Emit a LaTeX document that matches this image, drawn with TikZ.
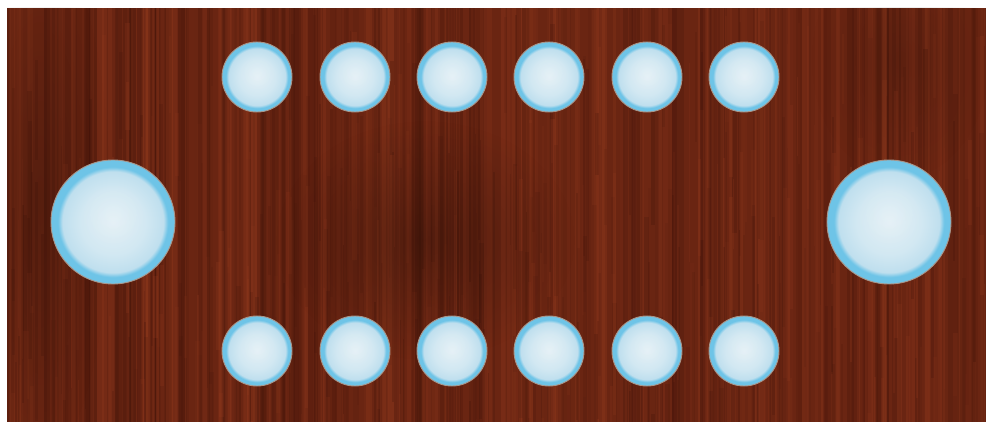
\documentclass[tikz,border=0pt]{standalone}
\usetikzlibrary{fadings}
\tikzfading[name=softdot, inner color=transparent!0, outer color=transparent!100]
\definecolor{woodbase}{HTML}{6A2512}
\definecolor{wooddark}{HTML}{42140A}
\definecolor{woodlight}{HTML}{943B1F}
\definecolor{sIn}{HTML}{E2EFF5}
\definecolor{sMid}{HTML}{D2E8F2}
\definecolor{sEdge}{HTML}{BFDFEE}
\definecolor{sRing}{HTML}{6EC4E7}
\definecolor{sOut}{HTML}{A8958A}
\pgfdeclareradialshading{seatring}{\pgfpointorigin}{color(0bp)=(sIn); color(13bp)=(sMid); color(20.4bp)=(sEdge); color(22.2bp)=(sRing); color(25bp)=(sRing); color(50bp)=(sRing)}
\newcommand\seatdisc[3]{%
  \shade[shading=seatring] (#1,#2) circle (#3);
  \fill[white, opacity=0.15, path fading=softdot] (#1,#2-0.12*#3) circle (0.55*#3);
  \draw[sOut, line width=0.9pt] (#1,#2) circle (#3);
}
\begin{document}
\begin{tikzpicture}[x=1pt,y=-1pt]
\useasboundingbox (0,0) rectangle (986,422);
\fill[white] (0,0) rectangle (986,422);
\begin{scope}
\clip (7,8) rectangle (986,422);
\fill[woodbase] (7,8) rectangle (986,422);
\pgfmathsetseed{7}
\foreach \i in {1,...,160}{
  \pgfmathsetmacro\xx{7+rnd*979}
  \pgfmathsetmacro\ww{1.5+rnd*7}
  \pgfmathsetmacro\op{0.08+rnd*0.22}
  \fill[wooddark, opacity=\op] (\xx,8) rectangle (\xx+\ww,422);
}
\foreach \i in {1,...,150}{
  \pgfmathsetmacro\xx{7+rnd*979}
  \pgfmathsetmacro\ww{1.5+rnd*6}
  \pgfmathsetmacro\op{0.08+rnd*0.22}
  \fill[woodlight, opacity=\op] (\xx,8) rectangle (\xx+\ww,422);
}
\foreach \i in {1,...,200}{
  \pgfmathsetmacro\xx{7+rnd*979}
  \pgfmathsetmacro\ww{1+rnd*4}
  \pgfmathsetmacro\yy{rnd*400}
  \pgfmathsetmacro\hh{60+rnd*200}
  \pgfmathsetmacro\op{0.06+rnd*0.2}
  \fill[wooddark, opacity=\op] (\xx,\yy) rectangle (\xx+\ww,\yy+\hh);
}
\foreach \i in {1,...,180}{
  \pgfmathsetmacro\xx{7+rnd*979}
  \pgfmathsetmacro\ww{1+rnd*4}
  \pgfmathsetmacro\yy{rnd*400}
  \pgfmathsetmacro\hh{60+rnd*200}
  \pgfmathsetmacro\op{0.06+rnd*0.18}
  \fill[woodlight, opacity=\op] (\xx,\yy) rectangle (\xx+\ww,\yy+\hh);
}
\fill[black, opacity=0.22, path fading=softdot] (425,240) ellipse (150 and 120);
\fill[black, opacity=0.18, path fading=softdot] (40,200) ellipse (70 and 260);
\fill[black, opacity=0.12, path fading=softdot] (900,60) ellipse (90 and 120);
\end{scope}
\foreach \x in {257,355,452,549,647,744}{
  \seatdisc{\x}{77}{35}
  \seatdisc{\x}{351}{35}
}
\seatdisc{113}{222}{62}
\seatdisc{889}{222}{62}
\end{tikzpicture}
\end{document}
